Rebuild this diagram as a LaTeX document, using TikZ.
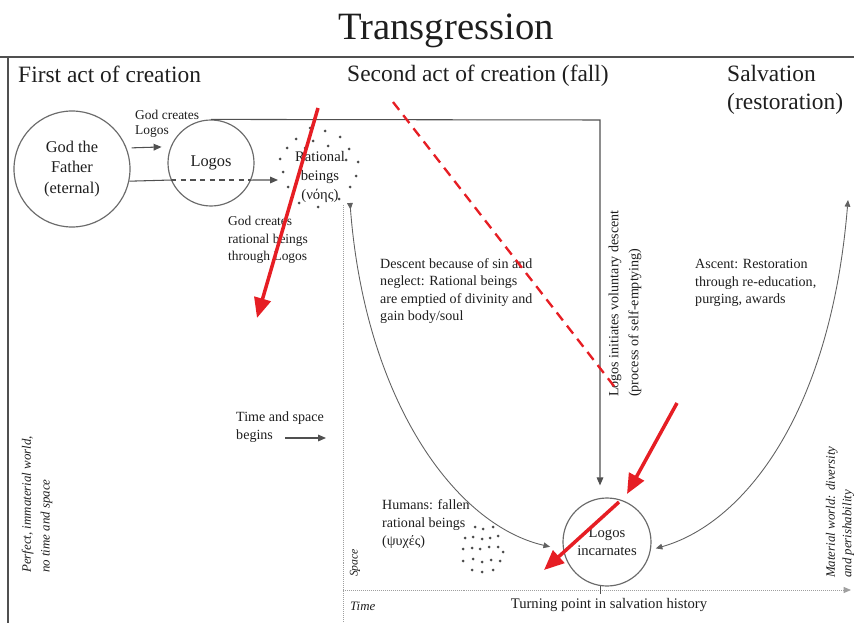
\documentclass[tikz,border=0pt]{standalone}
\usepackage{fontspec}
\setmainfont{Liberation Serif}
\usetikzlibrary{arrows.meta,positioning}
\definecolor{ink}{RGB}{30,30,30}
\definecolor{rule}{RGB}{80,80,80}
\definecolor{hintred}{RGB}{230,30,36}

\begin{document}
\begin{tikzpicture}[x=0.3mm, y=-0.3mm, font=\fontsize{12}{15}\selectfont, text=ink,
  disc/.style={circle, draw=rule!85, line width=1pt, align=center, inner sep=0pt, minimum size=#1},
  lbl/.style={align=left, inner sep=0pt, anchor=west},
  head/.style={inner sep=0pt, anchor=base west, font=\fontsize{20}{24}\selectfont},
  vert/.style={rotate=90, anchor=west, align=left, inner sep=0pt},
  wire/.style={draw=rule, line width=0.9pt},
  arrow/.style={wire, -{Triangle[length=2.4mm,width=2mm]}},
  curve/.style={draw=rule!90, line width=0.75pt},
  axis/.style={draw=gray!75, line width=0.7pt, densely dotted},
  hint/.style={draw=hintred, line width=3pt, -{Triangle[length=6mm,width=5mm]}}]
  \useasboundingbox (0,0) rectangle (854,623);
  \draw[rule, line width=2pt] (0,57) -- (854,57);
  \draw[rule, line width=2pt] (8,57) -- (8,623);

  \node[font=\fontsize{33}{36}\selectfont, anchor=base, inner sep=0pt] (title) at (446,40) {Transgression};
  \node[head] (first) at (18,83) {First act of creation};
  \node[head] (second) at (347,82) {Second act of creation (fall)};
  \node[head] (salv) at (727,82) {Salvation};
  \node[head] (restor) at (727,110) {(restoration)};

  \node[disc=34.8mm, font=\fontsize{14}{17.5}\selectfont] (god) at (72,169) {God the\\Father\\(eternal)};
  \node[disc=25.8mm, font=\fontsize{14}{17}\selectfont] (logos) at (211,163) {Logos};
  \node[align=center, inner sep=0pt, font=\fontsize{12.5}{16}\selectfont] (rat) at (320,177) {Rational\\beings\\(νόης)};
  \node[disc=26.4mm, font=\fontsize{12.5}{15.5}\selectfont] (incarn) at (607,542) {Logos\\incarnates};
  \foreach \p in {(310,128),(325,131),(296,139),(313,141),(340,137),(287,148),(305,148),(328,146),(349,149),
                  (280,159),(358,162),(283,172),(356,176),(288,187),(350,187),(299,203),(339,199),(318,207),(346,160)}
    \fill[ink!80] \p circle[radius=0.45mm];
  \foreach \p in {(475,527),(483,529),(493,527),(465,538),(473,537),(482,539),(490,538),(498,536),(463,549),(472,548),
                  (480,549),(489,547),(498,547),(503,552),(463,561),(473,559),(482,562),(491,560),(500,561),(472,570),(482,572),(493,570)}
    \fill[ink!80] \p circle[radius=0.45mm];

  \node[lbl, font=\fontsize{11.5}{13}\selectfont] (mkLogos) at (135,124) {God creates\\Logos};
  \node[lbl, font=\fontsize{11.5}{15}\selectfont] (mkRat) at (228,240) {God creates\\rational beings\\through Logos};
  \node[lbl] (descent) at (380,291) {Descent because of sin and\\neglect: Rational beings\\are emptied of divinity and\\gain body/soul};
  \node[lbl] (ascent) at (695,283) {Ascent: Restoration\\through re-education,\\purging, awards};
  \node[lbl] (humans) at (382,524) {Humans: fallen\\rational beings\\(ψυχές)};
  \node[lbl] (tsp) at (236,427) {Time and space\\begins};
  \node[vert, font=\fontsize{12}{17}\selectfont] (kenosis) at (625,397) {Logos initiates voluntary descent\\(process of self-emptying)};
  \node[vert, font=\fontsize{11}{16}\selectfont\itshape] (perfect) at (37,573) {Perfect, immaterial world,\\no time and space};
  \node[vert, font=\fontsize{11}{14}\selectfont\itshape] (material) at (840,578) {Material world: diversity\\and perishability};
  \node[rotate=90, inner sep=0pt, font=\fontsize{10}{12}\selectfont\itshape] (space) at (355,563) {Space};
  \node[lbl, font=\fontsize{11}{12}\selectfont\itshape] (time) at (350,606) {Time};
  \node[inner sep=0pt, font=\fontsize{12.5}{15}\selectfont] (turning) at (609,605) {Turning point in salvation history};

  \coordinate (ratIn) at (278,180);
  \coordinate (ratOut) at (350,203);
  \coordinate (bend) at (600,120);
  \coordinate (ascTop) at (848,200);
  \coordinate (tsFrom) at (285,438);
  \coordinate (tsTo) at (326,438);
  \coordinate (spTop) at (343,205);
  \coordinate (spBot) at (343,623);
  \coordinate (tEnd) at (851,590);

  \draw[arrow, shorten <=1.5mm, shorten >=2.7mm] (god.21) -- (logos.158);
  \draw[wire] (god.-12) -- (logos.-157);
  \draw[wire, line width=1.1pt, dash pattern=on 1.6mm off 1.3mm] (logos.-157) -- (logos.-23);
  \draw[arrow] (logos.-23) -- (ratIn);
  \draw[arrow, shorten >=3.6mm] (logos.north) -- (bend) -- (bend |- incarn.north);
  \draw[arrow] (tsFrom) -- (tsTo);
  \draw[curve, {Triangle[reversed,length=2mm,width=1.7mm]}-{Triangle[length=2mm,width=1.7mm]}, shorten >=4mm]
    (ratOut) .. controls (365,400) and (455,525) .. (incarn.-170);
  \draw[curve, {Triangle[length=2mm,width=1.7mm]}-{Triangle[length=2mm,width=1.7mm]}, shorten <=1.5mm]
    (incarn.-10) .. controls (740,525) and (830,420) .. (ascTop);

  \draw[axis] (spTop) -- (spBot);
  \draw[axis, -{Triangle[length=2.2mm,width=1.8mm]}] (spTop |- tEnd) -- (tEnd);
  \draw[rule, line width=0.8pt] (bend |- tEnd) ++(0,-4) -- ++(0,8);

  \coordinate (r1a) at (318,108); \coordinate (r1b) at (257,318);
  \coordinate (r2a) at (393,102); \coordinate (r2b) at (617,390);
  \coordinate (r3a) at (677,403); \coordinate (r3b) at (627,494);
  \coordinate (r4a) at (619,502); \coordinate (r4b) at (544,570);
  \draw[hint] (r1a) -- (r1b);
  \draw[hint, -, line width=2pt, dash pattern=on 3mm off 2mm] (r2a) -- (r2b);
  \draw[hint] (r3a) -- (r3b);
  \draw[hint] (r4a) -- (r4b);
\end{tikzpicture}
\end{document}
